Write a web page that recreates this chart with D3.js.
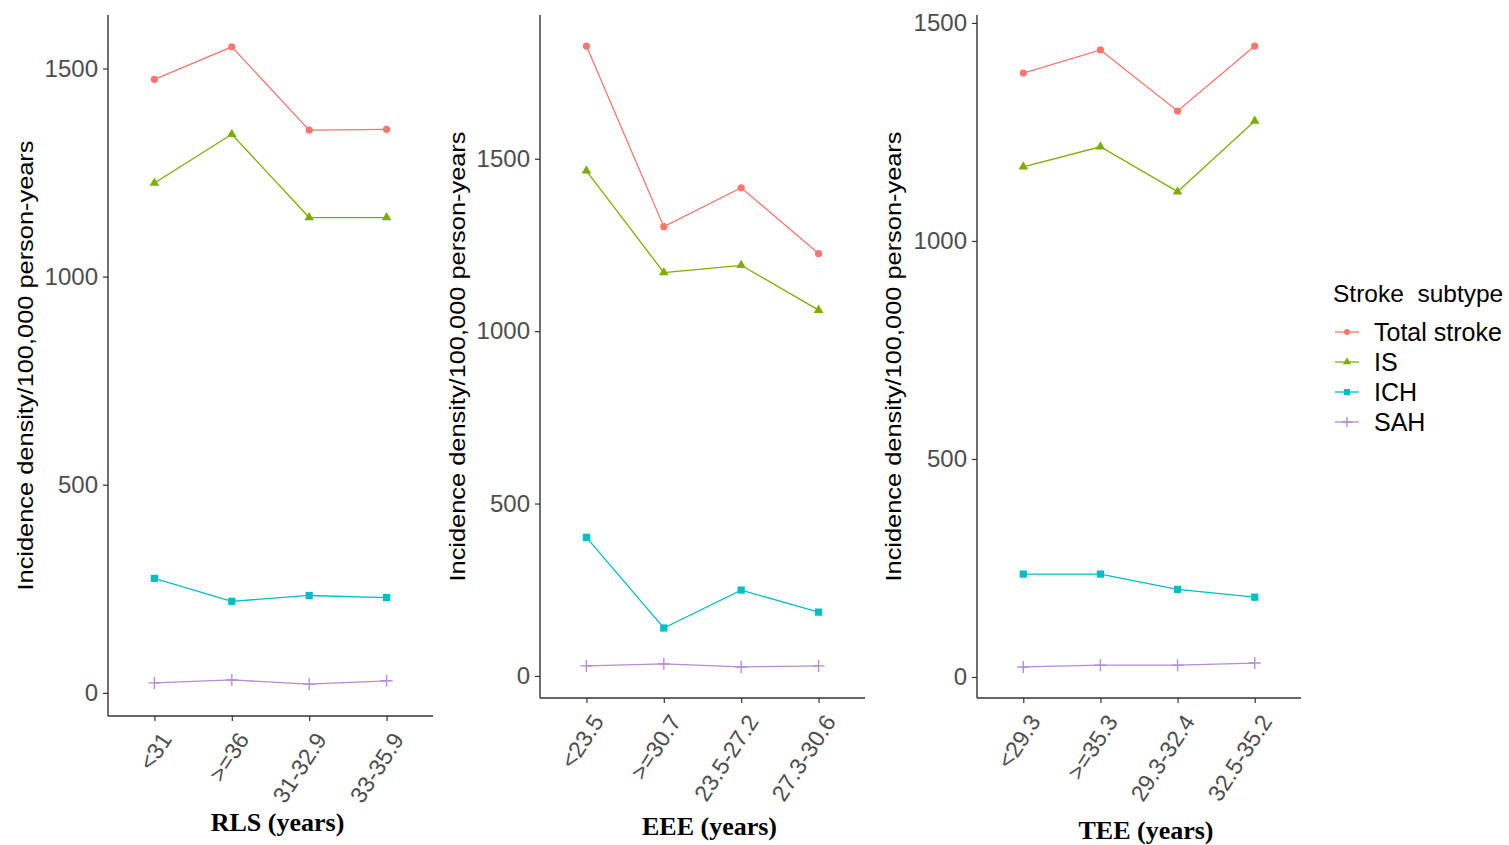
<!DOCTYPE html>
<html><head><meta charset="utf-8">
<script src="https://cdn.jsdelivr.net/npm/d3@7"></script>
<style>body{margin:0;background:#fff}svg{display:block}</style>
</head><body>
<svg id="c" width="1509" height="845"></svg>
<script>
const series = ["Total stroke","IS","ICH","SAH"];
const colors = ["#F8766D","#7CAE00","#00BFC4","#B48CD8"];
const yTicks = [0,500,1000,1500];

const rlsCats = ["<31",">=36","31-32.9","33-35.9"];
const rlsTotal = [1474,1552,1352,1354];
const rlsIS = [1225,1342,1142,1142];
const rlsICH = [275,220,234,229];
const rlsSAH = [24,31,21,29];

const eeeCats = ["<23.5",">=30.7","23.5-27.2","27.3-30.6"];
const eeeTotal = [1827,1303,1416,1225];
const eeeIS = [1465,1170,1191,1061];
const eeeICH = [402,139,249,185];
const eeeSAH = [29,35,26,29];

const teeCats = ["<29.3",">=35.3","29.3-32.4","32.5-35.2"];
const teeTotal = [1385,1438,1298,1447];
const teeIS = [1170,1216,1113,1275];
const teeICH = [236,236,201,183];
const teeSAH = [23,27,27,32];

const panels = [
  {cats: rlsCats, vals:[rlsTotal,rlsIS,rlsICH,rlsSAH], title:"RLS (years)", x0:108, x1:433, y0:15, y1:716, ylab:25, ttlY:822},
  {cats: eeeCats, vals:[eeeTotal,eeeIS,eeeICH,eeeSAH], title:"EEE (years)", x0:540, x1:865, y0:15, y1:698, ylab:457, ttlY:826},
  {cats: teeCats, vals:[teeTotal,teeIS,teeICH,teeSAH], title:"TEE (years)", x0:977, x1:1301, y0:15, y1:698, ylab:893, ttlY:830}
];

const svg = d3.select("#c");
const sans = "Liberation Sans, Arial, sans-serif";

function marker(g, type, x, y, color, s) {
  s = s || 1;
  if (type === 0) g.append("circle").attr("cx", x).attr("cy", y).attr("r", 3.6*s).attr("fill", color);
  else if (type === 1) g.append("path").attr("d", d3.symbol(d3.symbolTriangle, 40*s*s)()).attr("transform", `translate(${x},${y})`).attr("fill", color);
  else if (type === 2) g.append("rect").attr("x", x-3.6*s).attr("y", y-3.6*s).attr("width", 7.2*s).attr("height", 7.2*s).attr("fill", color);
  else g.append("path").attr("d", `M${x-6*s},${y}H${x+6*s}M${x},${y-6*s}V${y+6*s}`).attr("stroke", color).attr("stroke-width", 1.4);
}

panels.forEach(p => {
  const all = p.vals.flat();
  const mn = d3.min(all), mx = d3.max(all), r = mx - mn;
  const y = d3.scaleLinear().domain([mn - 0.05*r, mx + 0.05*r]).range([p.y1, p.y0]);
  const x = d3.scalePoint().domain(p.cats).range([p.x0, p.x1]).padding(0.6);
  const g = svg.append("g");

  // y axis
  const ya = g.append("g").attr("transform", `translate(${p.x0},0)`)
    .call(d3.axisLeft(y).tickValues(yTicks).tickSize(5).tickPadding(5).tickFormat(d3.format("d")));
  ya.select(".domain").attr("stroke","#333").attr("stroke-width",1.4).attr("d", `M0,${p.y0}V${p.y1}`);
  ya.selectAll(".tick line").attr("stroke","#333").attr("stroke-width",1.2);
  ya.selectAll(".tick text").attr("fill","#4d4d4d").style("font-family",sans).style("font-size","24px");

  // x axis
  const xa = g.append("g").attr("transform", `translate(0,${p.y1})`)
    .call(d3.axisBottom(x).tickSize(5).tickPadding(4));
  xa.select(".domain").attr("stroke","#333").attr("stroke-width",1.4).attr("d", `M${p.x0},0H${p.x1}`);
  xa.selectAll(".tick line").attr("stroke","#333").attr("stroke-width",1.2);
  xa.selectAll(".tick text").attr("fill","#4d4d4d").style("font-family",sans).style("font-size","23px")
    .attr("text-anchor","end").attr("dy","0.35em").attr("transform","translate(11,19) rotate(-57)").attr("y",0).attr("x",0);

  // y label
  g.append("text").attr("transform", `translate(${p.ylab},${(p.y0+p.y1)/2}) rotate(-90)`)
    .attr("text-anchor","middle").attr("dy","0.35em")
    .attr("textLength", 450).attr("lengthAdjust","spacingAndGlyphs")
    .style("font-family",sans).style("font-size","22px").attr("fill","#000")
    .text("Incidence density/100,000 person-years");

  // x title
  g.append("text").attr("x", (p.x0+p.x1)/2 + 7).attr("y", p.ttlY).attr("text-anchor","middle").attr("dy","0.35em")
    .style("font-family","Liberation Serif, serif").style("font-weight","bold").style("font-size","26px").attr("fill","#000")
    .text(p.title);

  // lines
  const line = d3.line().x((d,i) => x(p.cats[i])).y(d => y(d));
  p.vals.forEach((vals, si) => {
    g.append("path").datum(vals).attr("d", line).attr("fill","none").attr("stroke", colors[si]).attr("stroke-width", 1.3);
    vals.forEach((v, i) => marker(g, si, x(p.cats[i]), y(v), colors[si]));
  });
});

// legend
const lg = svg.append("g");
lg.append("text").attr("x",1333).attr("y",293).attr("dy","0.35em")
  .style("font-family",sans).style("font-size","24.5px").attr("fill","#000")
  .style("white-space","pre").text("Stroke  subtype");
series.forEach((s, i) => {
  const yy = 332 + i*30;
  lg.append("line").attr("x1",1335).attr("x2",1359).attr("y1",yy).attr("y2",yy).attr("stroke",colors[i]).attr("stroke-width",1.3);
  marker(lg, i, 1347, yy, colors[i], 0.85);
  lg.append("text").attr("x",1374).attr("y",yy).attr("dy","0.35em")
    .style("font-family",sans).style("font-size","25px").attr("fill","#000").text(s);
});
</script>
</body></html>
